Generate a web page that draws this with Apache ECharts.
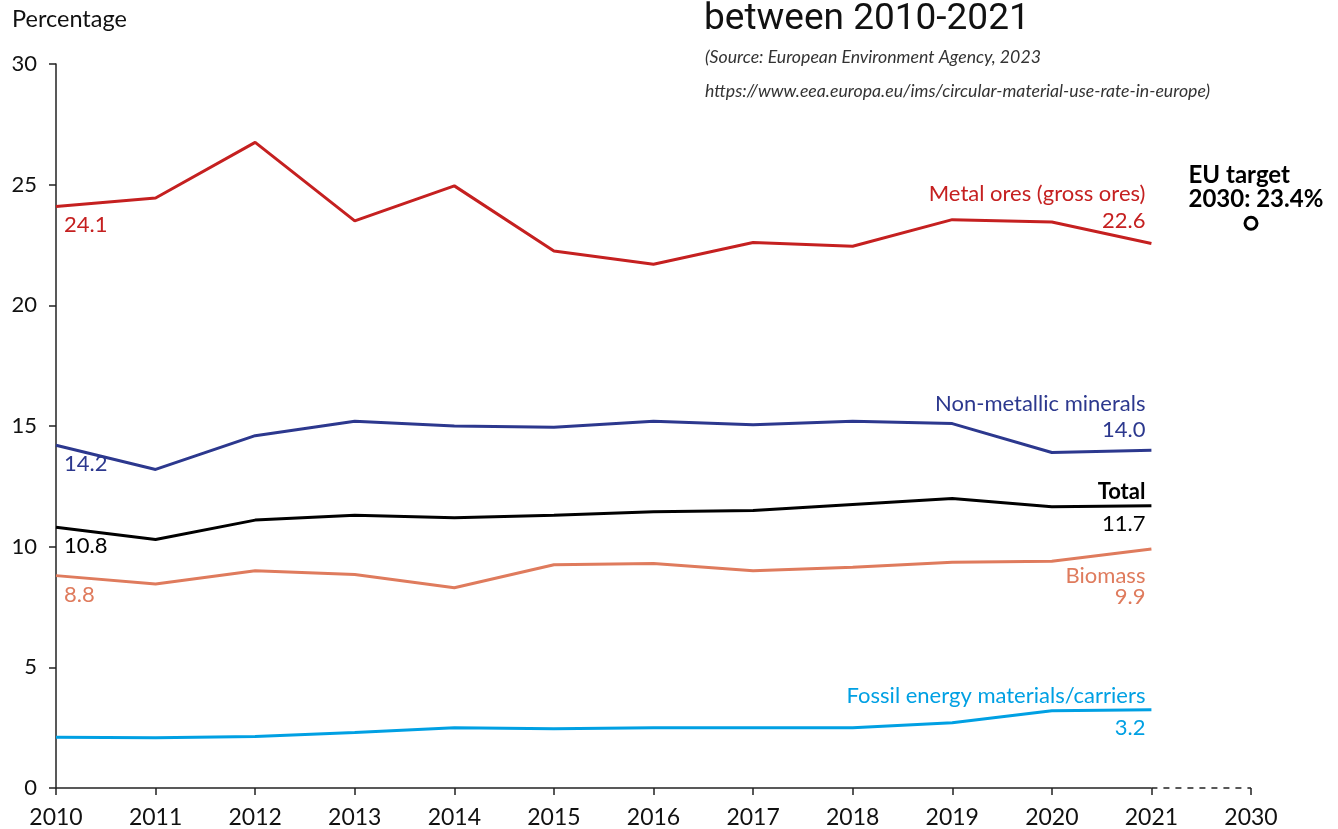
<!DOCTYPE html>
<html>
<head>
<meta charset="utf-8">
<script src="https://cdn.jsdelivr.net/npm/echarts@6/dist/echarts.min.js"></script>
<style>
	html, body {margin: 0; padding: 0; background: #fff;}
	#chart {width: 1338px; height: 829px;}
</style>
</head>
<body>
<div id="chart"></div>
<script>
// data
let years = ['2010', '2011', '2012', '2013', '2014', '2015', '2016', '2017', '2018', '2019', '2020', '2021', '2030'];
let yTicks = [0, 5, 10, 15, 20, 25, 30];
let metalOres = [24.1, 24.45, 26.75, 23.5, 24.95, 22.25, 21.7, 22.6, 22.45, 23.55, 23.45, 22.56];
let nonMetallic = [14.2, 13.2, 14.6, 15.2, 15.0, 14.95, 15.2, 15.05, 15.2, 15.1, 13.9, 14.0];
let total = [10.8, 10.3, 11.1, 11.3, 11.2, 11.3, 11.45, 11.5, 11.75, 12.0, 11.65, 11.7];
let biomass = [8.8, 8.45, 9.0, 8.85, 8.3, 9.25, 9.3, 9.0, 9.15, 9.35, 9.4, 9.9];
let fossil = [2.1, 2.08, 2.13, 2.3, 2.5, 2.45, 2.5, 2.5, 2.5, 2.7, 3.2, 3.24];
let euTarget = 23.4;

let FONT = 'Lato';
let LABEL_SIZE = 22;

// 一条折线：首点标数值(可选)，末点标名称+数值
function makeLine(name, values, color, bold, endCenter, gap, startLabel) {
	let last = values.length - 1;
	let data = values.map((v, i) => {
		let item = {value: v};
		if (i === 0 && startLabel) {
			item.label = {
				show: true,
				formatter: v.toFixed(1),
				position: [8, 19],
				align: 'left',
				verticalAlign: 'middle'
			};
		} else if (i === last) {
			item.label = {
				show: true,
				formatter: '{n|' + name + '}\n{v|' + v.toFixed(1) + '}',
				position: [-6, endCenter],
				align: 'right',
				verticalAlign: 'middle',
				rich: {
					n: {fontFamily: FONT, fontSize: LABEL_SIZE, color: color, fontWeight: bold ? 'bold' : 'normal', lineHeight: gap, align: 'right'},
					v: {fontFamily: FONT, fontSize: LABEL_SIZE, color: color, lineHeight: gap, align: 'right'}
				}
			};
		}
		return item;
	});
	data.push('-');
	return {
		name: name,
		type: 'line',
		data: data,
		symbol: 'circle',
		symbolSize: 0,
		showSymbol: true,
		itemStyle: {color: color},
		lineStyle: {color: color, width: 3},
		label: {fontFamily: FONT, fontSize: LABEL_SIZE, color: color},
		emphasis: {disabled: true},
		animation: false,
		z: 3
	};
}

let targetData = years.map((y, i) => i === years.length - 1 ? euTarget : '-');

let chart = echarts.init(document.getElementById('chart'));
let option = {
	animation: false,
	grid: {left: 56, right: 87, top: 64, bottom: 41},
	graphic: [
		{type: 'text', left: 12, top: 7, style: {text: 'Percentage', font: '23.5px Lato', fill: '#111'}},
		{type: 'text', left: 704, top: 1, style: {text: 'between 2010-2021', font: '37px Roboto', fill: '#111'}},
		{type: 'text', left: 705, top: 48, style: {text: '(Source: European Environment Agency, 2023', font: 'italic 17.7px Lato', fill: '#333'}},
		{type: 'text', left: 705, top: 82, style: {text: 'https://www.eea.europa.eu/ims/circular-material-use-rate-in-europe)', font: 'italic 17.7px Lato', fill: '#333'}}
	],
	xAxis: {
		type: 'category',
		data: years,
		boundaryGap: false,
		axisLine: {show: false},
		axisTick: {show: true, length: 7, lineStyle: {color: '#222', width: 1.5}},
		axisLabel: {fontFamily: FONT, fontSize: 23, color: '#111', margin: 18, interval: 0},
		splitLine: {show: false}
	},
	yAxis: {
		type: 'value',
		min: yTicks[0],
		max: yTicks[yTicks.length - 1],
		interval: 5,
		axisLine: {show: true, lineStyle: {color: '#222', width: 1.5}},
		axisTick: {show: true, length: 7, lineStyle: {color: '#222', width: 1.5}},
		axisLabel: {fontFamily: FONT, fontSize: 22, color: '#111', margin: 19},
		splitLine: {show: false}
	},
	series: [
		makeLine('Metal ores (gross ores)', metalOres, '#c52020', false, -36, 27, true),
		makeLine('Non-metallic minerals', nonMetallic, '#2c388e', false, -33, 26, true),
		makeLine('Total', total, '#000000', true, 2, 32, true),
		makeLine('Biomass', biomass, '#df7b5d', false, 37, 21, true),
		makeLine('Fossil energy materials/carriers', fossil, '#00a0e3', false, 2, 32, false),
		{
			name: 'EU target',
			type: 'line',
			data: targetData,
			symbol: 'circle',
			symbolSize: 12,
			showSymbol: true,
			itemStyle: {color: '#fff', borderColor: '#000', borderWidth: 3},
			lineStyle: {width: 0},
			label: {
				show: true,
				formatter: 'EU target\n2030: 23.4%',
				position: [-55, -29],
				align: 'left',
				verticalAlign: 'middle',
				fontFamily: FONT,
				fontSize: 24,
				fontWeight: 'bold',
				color: '#000',
				lineHeight: 24
			},
			emphasis: {disabled: true},
			markLine: {
				silent: true,
				symbol: 'none',
				label: {show: false},
				data: [
					[{coord: [years[0], 0], lineStyle: {type: 'solid', color: '#222', width: 1.5}},
						{coord: [years[11], 0]}],
					[{coord: [years[11], 0], lineStyle: {type: [6, 6], color: '#222', width: 1.5}},
						{coord: [years[12], 0]}]
				]
			},
			z: 4
		}
	]
};
chart.setOption(option);
</script>
</body>
</html>
